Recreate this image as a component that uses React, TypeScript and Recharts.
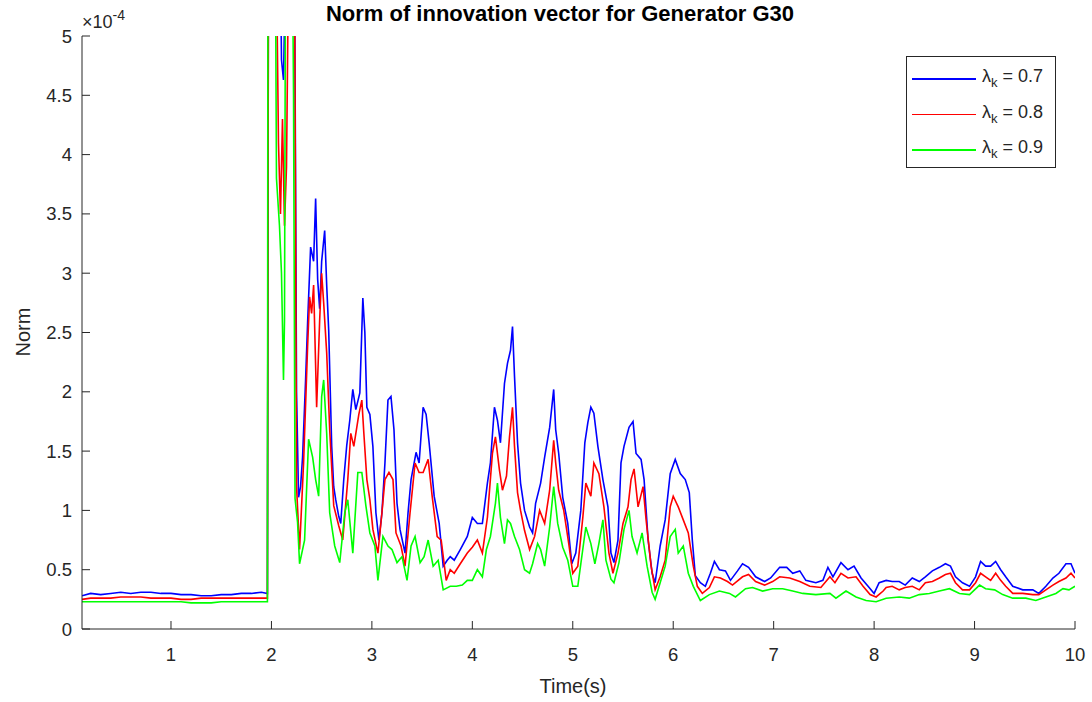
import { LineChart, Line, XAxis, YAxis } from "recharts";

// time (s), norm (x1e-4)
const blueSeries: [number, number][] = [
  [0.114, 0.28], [0.2, 0.3], [0.3, 0.29], [0.4, 0.3], [0.5, 0.31], [0.6, 0.3], [0.7, 0.31],
  [0.8, 0.31], [0.9, 0.3], [1.0, 0.3], [1.1, 0.29], [1.2, 0.29], [1.3, 0.28], [1.4, 0.28],
  [1.5, 0.29], [1.6, 0.29], [1.7, 0.3], [1.8, 0.3], [1.9, 0.31], [1.96, 0.3],
  [1.97, 5.6], [2.09, 5.6], [2.1, 4.8], [2.12, 4.63], [2.14, 5.6], [2.23, 5.6], [2.25, 2.0],
  [2.27, 1.11], [2.29, 1.2], [2.31, 1.45], [2.34, 2.1], [2.36, 2.58], [2.39, 3.22], [2.42, 3.1],
  [2.44, 3.63], [2.46, 2.95], [2.48, 2.7], [2.5, 3.1], [2.53, 3.36], [2.55, 2.9], [2.57, 2.52],
  [2.6, 1.54], [2.62, 1.2], [2.64, 1.09], [2.67, 0.95], [2.69, 0.89], [2.72, 1.26], [2.75, 1.55],
  [2.78, 1.76], [2.81, 2.02], [2.84, 1.85], [2.88, 1.99], [2.91, 2.79], [2.93, 2.5], [2.95, 1.87],
  [2.98, 1.81], [3.01, 1.54], [3.04, 0.98], [3.07, 0.75], [3.1, 0.98], [3.13, 1.4], [3.16, 1.93],
  [3.19, 1.96], [3.22, 1.68], [3.25, 1.06], [3.28, 0.84], [3.33, 0.64], [3.36, 0.98], [3.39, 1.26],
  [3.44, 1.49], [3.47, 1.4], [3.51, 1.87], [3.54, 1.81], [3.57, 1.57], [3.62, 1.12], [3.67, 0.89],
  [3.71, 0.53], [3.75, 0.58], [3.78, 0.61], [3.82, 0.58], [3.88, 0.67], [3.95, 0.78], [4.0, 0.94],
  [4.05, 0.89], [4.1, 0.89], [4.15, 1.23], [4.18, 1.4], [4.22, 1.87], [4.25, 1.76], [4.28, 1.57],
  [4.32, 2.07], [4.35, 2.24], [4.38, 2.35], [4.4, 2.55], [4.42, 2.13], [4.45, 1.57], [4.48, 1.23],
  [4.52, 1.0], [4.57, 0.86], [4.6, 0.81], [4.63, 1.06], [4.68, 1.23], [4.72, 1.45], [4.77, 1.7],
  [4.81, 2.02], [4.83, 1.68], [4.86, 1.48], [4.9, 1.11], [4.95, 0.89], [4.99, 0.55], [5.03, 0.64],
  [5.08, 1.0], [5.12, 1.57], [5.15, 1.74], [5.18, 1.87], [5.21, 1.82], [5.25, 1.54], [5.3, 1.26],
  [5.35, 1.03], [5.38, 0.64], [5.41, 0.56], [5.45, 0.75], [5.48, 1.4], [5.51, 1.54], [5.56, 1.7],
  [5.6, 1.75], [5.63, 1.48], [5.68, 1.43], [5.71, 1.26], [5.75, 0.75], [5.79, 0.47], [5.82, 0.39],
  [5.87, 0.7], [5.92, 0.92], [5.97, 1.31], [6.02, 1.43], [6.07, 1.31], [6.12, 1.26], [6.16, 1.15],
  [6.19, 0.75], [6.22, 0.45], [6.27, 0.39], [6.32, 0.36], [6.37, 0.47], [6.41, 0.57], [6.46, 0.5],
  [6.52, 0.49], [6.57, 0.41], [6.64, 0.49], [6.69, 0.55], [6.75, 0.52], [6.82, 0.44], [6.91, 0.4],
  [6.97, 0.43], [7.06, 0.52], [7.13, 0.52], [7.19, 0.47], [7.26, 0.49], [7.32, 0.41], [7.42, 0.39],
  [7.49, 0.41], [7.54, 0.52], [7.59, 0.44], [7.67, 0.56], [7.74, 0.5], [7.8, 0.53], [7.87, 0.43],
  [7.94, 0.36], [8.0, 0.3], [8.05, 0.39], [8.12, 0.41], [8.18, 0.4], [8.25, 0.4], [8.31, 0.37],
  [8.38, 0.43], [8.45, 0.4], [8.51, 0.44], [8.58, 0.49], [8.65, 0.52], [8.71, 0.55], [8.76, 0.53],
  [8.81, 0.44], [8.88, 0.39], [8.95, 0.36], [9.01, 0.44], [9.06, 0.57], [9.11, 0.53], [9.16, 0.53],
  [9.21, 0.57], [9.26, 0.5], [9.31, 0.44], [9.38, 0.36], [9.48, 0.33], [9.58, 0.33], [9.64, 0.3],
  [9.71, 0.36], [9.78, 0.43], [9.84, 0.47], [9.91, 0.55], [9.96, 0.55], [10.0, 0.47],
];

const redSeries: [number, number][] = [
  [0.114, 0.25], [0.2, 0.26], [0.3, 0.26], [0.4, 0.26], [0.5, 0.27], [0.6, 0.27], [0.7, 0.27],
  [0.8, 0.26], [0.9, 0.26], [1.0, 0.26], [1.1, 0.25], [1.2, 0.25], [1.3, 0.26], [1.4, 0.26],
  [1.5, 0.26], [1.6, 0.26], [1.7, 0.26], [1.8, 0.26], [1.9, 0.26], [1.96, 0.26],
  [1.97, 5.6], [2.05, 5.6], [2.07, 4.1], [2.09, 3.5], [2.11, 4.3], [2.13, 3.4], [2.15, 3.9],
  [2.17, 5.6], [2.23, 5.6], [2.25, 1.2], [2.28, 0.67], [2.32, 1.4], [2.36, 2.38], [2.38, 2.8],
  [2.4, 2.66], [2.42, 2.9], [2.45, 1.87], [2.48, 2.6], [2.5, 3.0], [2.52, 2.75], [2.55, 2.33],
  [2.58, 1.68], [2.62, 1.04], [2.67, 0.87], [2.71, 0.75], [2.76, 1.26], [2.79, 1.65], [2.82, 1.54],
  [2.87, 1.81], [2.9, 1.93], [2.92, 1.65], [2.95, 1.26], [2.98, 1.09], [3.01, 0.84], [3.06, 0.64],
  [3.1, 0.98], [3.13, 1.26], [3.17, 1.32], [3.21, 1.26], [3.24, 0.81], [3.29, 0.7], [3.33, 0.53],
  [3.38, 0.98], [3.43, 1.4], [3.47, 1.32], [3.51, 1.32], [3.56, 1.43], [3.6, 1.12], [3.65, 0.78],
  [3.69, 0.75], [3.74, 0.41], [3.78, 0.5], [3.82, 0.47], [3.88, 0.55], [3.95, 0.64], [4.0, 0.69],
  [4.05, 0.75], [4.1, 0.64], [4.15, 0.94], [4.2, 1.48], [4.23, 1.62], [4.27, 1.34], [4.3, 1.17],
  [4.34, 1.29], [4.37, 1.62], [4.4, 1.87], [4.42, 1.54], [4.45, 1.15], [4.48, 1.0], [4.52, 0.83],
  [4.57, 0.67], [4.62, 0.78], [4.67, 1.0], [4.72, 0.89], [4.77, 1.17], [4.81, 1.59], [4.83, 1.4],
  [4.86, 1.17], [4.91, 1.0], [4.96, 0.72], [5.0, 0.47], [5.05, 0.53], [5.1, 0.94], [5.13, 1.23],
  [5.18, 1.12], [5.21, 1.4], [5.26, 1.31], [5.31, 1.03], [5.36, 0.64], [5.4, 0.47], [5.45, 0.64],
  [5.5, 0.89], [5.55, 1.03], [5.58, 1.26], [5.61, 1.35], [5.65, 1.03], [5.7, 1.2], [5.73, 0.92],
  [5.78, 0.53], [5.82, 0.33], [5.87, 0.44], [5.92, 0.58], [5.97, 1.03], [6.0, 1.12], [6.05, 1.03],
  [6.1, 0.92], [6.15, 0.81], [6.2, 0.53], [6.24, 0.36], [6.29, 0.3], [6.36, 0.35], [6.41, 0.44],
  [6.47, 0.43], [6.54, 0.4], [6.59, 0.37], [6.69, 0.44], [6.75, 0.46], [6.82, 0.4], [6.91, 0.37],
  [6.99, 0.4], [7.06, 0.44], [7.16, 0.43], [7.26, 0.4], [7.36, 0.36], [7.47, 0.35], [7.56, 0.44],
  [7.61, 0.39], [7.67, 0.47], [7.74, 0.43], [7.82, 0.44], [7.89, 0.36], [7.96, 0.29], [8.02, 0.27],
  [8.09, 0.32], [8.12, 0.35], [8.18, 0.36], [8.25, 0.33], [8.31, 0.35], [8.38, 0.36], [8.45, 0.33],
  [8.51, 0.39], [8.58, 0.4], [8.65, 0.43], [8.71, 0.46], [8.76, 0.47], [8.81, 0.39], [8.88, 0.33],
  [8.95, 0.33], [9.01, 0.39], [9.06, 0.47], [9.11, 0.44], [9.16, 0.41], [9.21, 0.47], [9.26, 0.41],
  [9.31, 0.36], [9.38, 0.3], [9.48, 0.3], [9.58, 0.29], [9.64, 0.29], [9.71, 0.33], [9.78, 0.37],
  [9.84, 0.4], [9.91, 0.43], [9.96, 0.47], [10.0, 0.43],
];

const greenSeries: [number, number][] = [
  [0.114, 0.23], [0.2, 0.23], [0.3, 0.23], [0.4, 0.23], [0.5, 0.23], [0.6, 0.23], [0.7, 0.23],
  [0.8, 0.23], [0.9, 0.23], [1.0, 0.23], [1.1, 0.23], [1.2, 0.22], [1.3, 0.22], [1.4, 0.22],
  [1.5, 0.23], [1.6, 0.23], [1.7, 0.23], [1.8, 0.23], [1.9, 0.23], [1.96, 0.23],
  [1.965, 5.6], [2.04, 5.6], [2.05, 3.8], [2.08, 3.4], [2.1, 3.0], [2.12, 2.1], [2.13, 2.6],
  [2.14, 5.6], [2.21, 5.6], [2.22, 4.5], [2.235, 1.1], [2.26, 0.9], [2.28, 0.55], [2.33, 0.75],
  [2.37, 1.6], [2.41, 1.45], [2.44, 1.26], [2.47, 1.12], [2.5, 1.96], [2.52, 2.1], [2.55, 1.65],
  [2.58, 0.98], [2.63, 0.7], [2.68, 0.56], [2.73, 0.98], [2.76, 1.09], [2.81, 0.64], [2.86, 1.32],
  [2.9, 1.32], [2.94, 1.04], [2.98, 0.81], [3.03, 0.7], [3.06, 0.41], [3.11, 0.78], [3.16, 0.7],
  [3.2, 0.67], [3.25, 0.56], [3.3, 0.61], [3.35, 0.41], [3.39, 0.7], [3.43, 0.78], [3.48, 0.56],
  [3.52, 0.61], [3.56, 0.75], [3.61, 0.53], [3.66, 0.58], [3.71, 0.33], [3.78, 0.36], [3.84, 0.36],
  [3.9, 0.37], [3.95, 0.41], [4.0, 0.41], [4.05, 0.5], [4.1, 0.44], [4.14, 0.67], [4.18, 0.78],
  [4.23, 1.06], [4.25, 1.23], [4.28, 0.94], [4.32, 0.72], [4.35, 0.92], [4.38, 0.89], [4.42, 0.78],
  [4.47, 0.67], [4.52, 0.5], [4.57, 0.47], [4.6, 0.55], [4.65, 0.72], [4.68, 0.67], [4.72, 0.53],
  [4.77, 0.86], [4.81, 1.2], [4.85, 0.89], [4.9, 0.69], [4.95, 0.58], [5.0, 0.36], [5.05, 0.36],
  [5.08, 0.55], [5.13, 0.86], [5.18, 0.72], [5.22, 0.55], [5.26, 0.72], [5.3, 0.92], [5.33, 0.58],
  [5.38, 0.42], [5.41, 0.39], [5.46, 0.56], [5.51, 0.84], [5.56, 1.0], [5.59, 0.78], [5.64, 0.64],
  [5.69, 0.81], [5.74, 0.53], [5.79, 0.31], [5.82, 0.25], [5.87, 0.39], [5.92, 0.53], [5.97, 0.78],
  [6.02, 0.84], [6.05, 0.64], [6.1, 0.7], [6.15, 0.47], [6.2, 0.36], [6.27, 0.24], [6.36, 0.29],
  [6.46, 0.32], [6.56, 0.3], [6.62, 0.27], [6.72, 0.34], [6.79, 0.35], [6.89, 0.32], [6.99, 0.34],
  [7.09, 0.34], [7.19, 0.32], [7.29, 0.3], [7.42, 0.29], [7.56, 0.3], [7.62, 0.26], [7.72, 0.32],
  [7.82, 0.27], [7.92, 0.24], [8.02, 0.23], [8.12, 0.26], [8.25, 0.27], [8.35, 0.26], [8.45, 0.29],
  [8.55, 0.3], [8.65, 0.32], [8.75, 0.34], [8.85, 0.3], [8.95, 0.29], [9.05, 0.37], [9.11, 0.34],
  [9.2, 0.33], [9.28, 0.29], [9.38, 0.26], [9.51, 0.26], [9.61, 0.24], [9.71, 0.27], [9.81, 0.3],
  [9.88, 0.34], [9.94, 0.33], [10.0, 0.36],
];

const xTicks = [1, 2, 3, 4, 5, 6, 7, 8, 9, 10];
const yTicks = [0, 0.5, 1, 1.5, 2, 2.5, 3, 3.5, 4, 4.5, 5];
const legendLabels = ["0.7", "0.8", "0.9"];
const seriesColors = ["#0000ff", "#ff0000", "#00ff00"];

const AXIS = "#262626";
const FONT = "'Liberation Sans', Arial, Helvetica, sans-serif";
const TICK_LEN = 8;

const toRows = (s: [number, number][]) => s.map(([t, v]) => ({ t, v }));

function LeftTick({ x, y, payload }: any) {
  return (
    <g>
      <line x1={x + 10} x2={x + 10 + TICK_LEN} y1={y} y2={y} stroke={AXIS} />
      <text x={x} y={y} dy={6.5} textAnchor="end" fontSize={18.5} fill={AXIS} fontFamily={FONT}>
        {payload.value}
      </text>
    </g>
  );
}

function BottomTick({ x, y, payload }: any) {
  return (
    <g>
      <line x1={x} x2={x} y1={y} y2={y - TICK_LEN} stroke={AXIS} />
      <text x={x} y={y + 32} textAnchor="middle" fontSize={18.5} fill={AXIS} fontFamily={FONT}>
        {payload.value}
      </text>
    </g>
  );
}

function TopTick({ x, y }: any) {
  return <line x1={x} x2={x} y1={y} y2={y + TICK_LEN} stroke={AXIS} />;
}

function RightTick({ x, y }: any) {
  return <line x1={x} x2={x - TICK_LEN} y1={y} y2={y} stroke={AXIS} />;
}

export default function App() {
  const series = [blueSeries, redSeries, greenSeries];
  return (
    <div style={{ position: "absolute", left: 0, top: 0, width: 1092, height: 702, background: "#fff", fontFamily: FONT }}>
      <LineChart width={1092} height={702} margin={{ top: 36, right: 17, left: 22, bottom: 43 }}>
        <XAxis
          xAxisId="b"
          type="number"
          dataKey="t"
          domain={[0.114, 10]}
          ticks={xTicks}
          allowDataOverflow
          height={30}
          tickSize={0}
          tickMargin={0}
          tick={<BottomTick />}
          axisLine={{ stroke: AXIS }}
          tickLine={false}
        />
        <XAxis
          xAxisId="t"
          orientation="top"
          type="number"
          dataKey="t"
          domain={[0.114, 10]}
          ticks={xTicks}
          allowDataOverflow
          height={0}
          tickSize={0}
          tickMargin={0}
          tick={<TopTick />}
          axisLine={{ stroke: AXIS }}
          tickLine={false}
        />
        <YAxis
          yAxisId="l"
          type="number"
          domain={[0, 5]}
          ticks={yTicks}
          allowDataOverflow
          width={60}
          tickSize={0}
          tickMargin={10}
          tick={<LeftTick />}
          axisLine={{ stroke: AXIS }}
          tickLine={false}
        />
        <YAxis
          yAxisId="r"
          orientation="right"
          type="number"
          domain={[0, 5]}
          ticks={yTicks}
          allowDataOverflow
          width={0}
          tickSize={0}
          tickMargin={0}
          tick={<RightTick />}
          axisLine={{ stroke: AXIS }}
          tickLine={false}
        />
        {series.map((s, i) => (
          <Line
            key={i}
            xAxisId="b"
            yAxisId="l"
            data={toRows(s)}
            dataKey="v"
            type="linear"
            stroke={seriesColors[i]}
            strokeWidth={1.6}
            dot={false}
            activeDot={false}
            isAnimationActive={false}
          />
        ))}
      </LineChart>

      <div style={{ position: "absolute", left: 0, width: 1120, top: 1, textAlign: "center", fontWeight: "bold", fontSize: 22, color: "#000" }}>
        Norm of innovation vector for Generator G30
      </div>

      <div style={{ position: "absolute", left: 82, top: 8, fontSize: 18, color: AXIS, whiteSpace: "nowrap" }}>
        ×10<sup style={{ fontSize: 14, position: "relative", top: -1 }}>-4</sup>
      </div>

      <div
        style={{
          position: "absolute",
          left: 23,
          top: 332,
          transform: "translate(-50%, -50%) rotate(-90deg)",
          fontSize: 20,
          color: AXIS,
          whiteSpace: "nowrap",
        }}
      >
        Norm
      </div>

      <div style={{ position: "absolute", left: 0, width: 1146, top: 675, textAlign: "center", fontSize: 20, color: AXIS }}>
        Time(s)
      </div>

      <div
        style={{
          position: "absolute",
          left: 906,
          top: 56,
          width: 148,
          height: 110,
          border: `1px solid ${AXIS}`,
          background: "#fff",
        }}
      >
        {legendLabels.map((lab, i) => (
          <div key={lab} style={{ position: "absolute", left: 0, top: 21 + i * 35.5 - 12, height: 24, width: 148 }}>
            <div style={{ position: "absolute", left: 5, top: 12, width: 64, height: 1.5, background: seriesColors[i] }} />
            <div style={{ position: "absolute", left: 75, top: 0, fontSize: 18, color: AXIS, whiteSpace: "nowrap" }}>
              λ<sub style={{ fontSize: 13 }}>k</sub> = {lab}
            </div>
          </div>
        ))}
      </div>
    </div>
  );
}
